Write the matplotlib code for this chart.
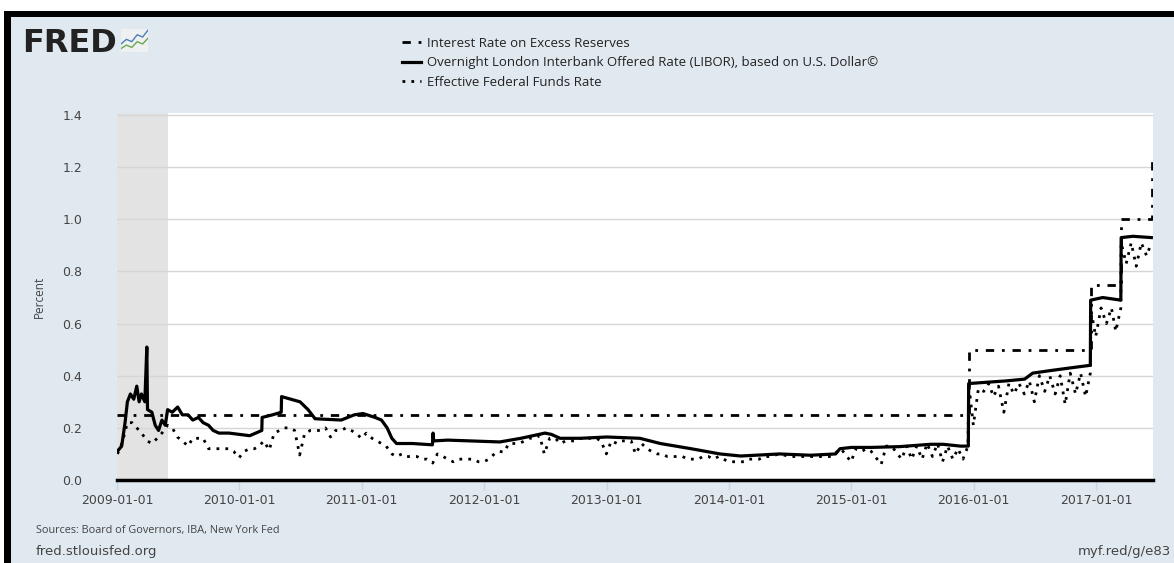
import pandas as pd
import matplotlib
matplotlib.use('Agg')
import matplotlib.pyplot as plt
from matplotlib.patches import Rectangle
from matplotlib.lines import Line2D

# Interest Rate on Excess Reserves (step series)
ioer_dates = ['2009-01-01', '2015-12-17', '2016-12-15', '2017-03-16', '2017-06-15']
ioer_values = [0.25, 0.50, 0.75, 1.00, 1.25]

# Overnight USD LIBOR
libor_dates = [
    '2009-01-02', '2009-01-15', '2009-01-25', '2009-02-01', '2009-02-10', '2009-02-20',
    '2009-03-01', '2009-03-08', '2009-03-15', '2009-03-25', '2009-03-31', '2009-04-02',
    '2009-04-15', '2009-04-25', '2009-05-05', '2009-05-15', '2009-05-25', '2009-06-01',
    '2009-06-15', '2009-07-01', '2009-07-15', '2009-08-01', '2009-08-15', '2009-09-01',
    '2009-09-15', '2009-10-01', '2009-10-15', '2009-11-01', '2009-12-01', '2010-01-01',
    '2010-02-01', '2010-03-09', '2010-03-10', '2010-04-10', '2010-05-06', '2010-05-07',
    '2010-07-01', '2010-07-25', '2010-08-15', '2010-11-01', '2010-12-10', '2011-01-05',
    '2011-02-10', '2011-03-01', '2011-03-18', '2011-04-01', '2011-04-15', '2011-06-01',
    '2011-07-31', '2011-08-02', '2011-08-04', '2011-09-15', '2011-11-20', '2012-02-17',
    '2012-04-20', '2012-07-01', '2012-07-20', '2012-08-15', '2012-10-15', '2013-01-01',
    '2013-04-10', '2013-06-10', '2013-09-10', '2013-12-05', '2014-02-05', '2014-06-01',
    '2014-09-01', '2014-11-15', '2014-11-28', '2015-01-01', '2015-03-01', '2015-05-25',
    '2015-08-25', '2015-10-01', '2015-11-23', '2015-12-16', '2015-12-17', '2016-02-20',
    '2016-04-05', '2016-06-01', '2016-06-25', '2016-08-18', '2016-10-15', '2016-12-14',
    '2016-12-15', '2017-01-20', '2017-03-15', '2017-03-16', '2017-04-20', '2017-06-14',
]
libor_values = [
    0.11, 0.13, 0.22, 0.30, 0.33, 0.31,
    0.36, 0.30, 0.33, 0.30, 0.51, 0.27,
    0.26, 0.21, 0.19, 0.23, 0.21, 0.27,
    0.26, 0.28, 0.25, 0.25, 0.23, 0.24,
    0.22, 0.21, 0.19, 0.18, 0.18, 0.175,
    0.17, 0.19, 0.24, 0.25, 0.26, 0.32,
    0.30, 0.27, 0.235, 0.23, 0.25, 0.255,
    0.24, 0.23, 0.20, 0.16, 0.14, 0.14,
    0.135, 0.18, 0.15, 0.153, 0.15, 0.146,
    0.16, 0.18, 0.175, 0.16, 0.16, 0.165,
    0.16, 0.14, 0.12, 0.10, 0.092, 0.10,
    0.095, 0.10, 0.12, 0.125, 0.125, 0.128,
    0.137, 0.137, 0.13, 0.13, 0.37, 0.376,
    0.38, 0.387, 0.41, 0.42, 0.43, 0.44,
    0.69, 0.70, 0.69, 0.93, 0.935, 0.93,
]

# Effective Federal Funds Rate
effr_dates = [
    '2009-01-02', '2009-01-10', '2009-01-20', '2009-02-01', '2009-02-15', '2009-03-01',
    '2009-03-15', '2009-04-01', '2009-04-15', '2009-05-01', '2009-05-15', '2009-06-01',
    '2009-06-15', '2009-06-30', '2009-07-15', '2009-08-01', '2009-08-15', '2009-09-01',
    '2009-09-15', '2009-10-01', '2009-10-15', '2009-11-01', '2009-11-15', '2009-12-01',
    '2009-12-15', '2009-12-31', '2010-01-15', '2010-02-01', '2010-02-15', '2010-03-01',
    '2010-03-15', '2010-03-31', '2010-04-15', '2010-05-01', '2010-05-15', '2010-06-01',
    '2010-06-15', '2010-06-30', '2010-07-15', '2010-08-01', '2010-08-15', '2010-09-01',
    '2010-09-15', '2010-09-30', '2010-10-15', '2010-11-01', '2010-11-15', '2010-12-01',
    '2010-12-15', '2010-12-31', '2011-01-15', '2011-02-01', '2011-02-15', '2011-03-01',
    '2011-03-15', '2011-04-01', '2011-04-15', '2011-05-01', '2011-05-15', '2011-06-01',
    '2011-06-15', '2011-07-01', '2011-07-15', '2011-08-01', '2011-08-15', '2011-09-01',
    '2011-09-15', '2011-10-01', '2011-10-15', '2011-11-01', '2011-11-15', '2011-12-01',
    '2011-12-15', '2012-01-01', '2012-01-15', '2012-02-01', '2012-02-15', '2012-03-01',
    '2012-03-15', '2012-04-01', '2012-04-15', '2012-05-01', '2012-05-15', '2012-06-01',
    '2012-06-15', '2012-06-29', '2012-07-15', '2012-08-01', '2012-08-15', '2012-09-01',
    '2012-09-15', '2012-10-01', '2012-10-15', '2012-11-01', '2012-11-15', '2012-12-01',
    '2012-12-15', '2012-12-31', '2013-01-15', '2013-02-01', '2013-02-15', '2013-03-01',
    '2013-03-15', '2013-03-28', '2013-04-15', '2013-05-01', '2013-05-15', '2013-06-01',
    '2013-06-15', '2013-07-01', '2013-07-15', '2013-08-01', '2013-08-15', '2013-09-01',
    '2013-09-15', '2013-10-01', '2013-10-15', '2013-11-01', '2013-11-15', '2013-12-01',
    '2013-12-15', '2014-01-01', '2014-01-15', '2014-02-01', '2014-02-15', '2014-03-01',
    '2014-03-15', '2014-04-01', '2014-04-15', '2014-05-01', '2014-06-01', '2014-07-01',
    '2014-08-01', '2014-09-01', '2014-10-01', '2014-11-01', '2014-12-01', '2014-12-31',
    '2015-01-15', '2015-02-01', '2015-02-15', '2015-03-01', '2015-03-31', '2015-04-15',
    '2015-05-01', '2015-05-31', '2015-06-15', '2015-06-30', '2015-07-15', '2015-07-31',
    '2015-08-15', '2015-08-31', '2015-09-15', '2015-09-30', '2015-10-15', '2015-10-31',
    '2015-11-15', '2015-11-30', '2015-12-15', '2015-12-17', '2015-12-31', '2016-01-15',
    '2016-01-31', '2016-02-15', '2016-02-29', '2016-03-15', '2016-03-31', '2016-04-15',
    '2016-04-30', '2016-05-15', '2016-05-31', '2016-06-15', '2016-06-30', '2016-07-15',
    '2016-07-31', '2016-08-15', '2016-08-31', '2016-09-15', '2016-09-30', '2016-10-15',
    '2016-10-31', '2016-11-15', '2016-11-30', '2016-12-14', '2016-12-15', '2016-12-30',
    '2017-01-15', '2017-01-31', '2017-02-15', '2017-02-28', '2017-03-15', '2017-03-16',
    '2017-03-31', '2017-04-15', '2017-04-30', '2017-05-15', '2017-05-31', '2017-06-14',
]
effr_values = [
    0.10, 0.12, 0.16, 0.22, 0.22, 0.20,
    0.18, 0.15, 0.14, 0.16, 0.18, 0.21,
    0.20, 0.165, 0.15, 0.13, 0.16, 0.16,
    0.16, 0.12, 0.12, 0.12, 0.12, 0.12,
    0.11, 0.085, 0.11, 0.12, 0.12, 0.13,
    0.15, 0.115, 0.18, 0.19, 0.20, 0.20,
    0.19, 0.096, 0.18, 0.19, 0.19, 0.19,
    0.20, 0.165, 0.19, 0.19, 0.20, 0.19,
    0.18, 0.16, 0.18, 0.16, 0.15, 0.14,
    0.13, 0.10, 0.09, 0.10, 0.09, 0.09,
    0.09, 0.08, 0.08, 0.065, 0.10, 0.09,
    0.08, 0.07, 0.08, 0.08, 0.08, 0.08,
    0.07, 0.07, 0.08, 0.10, 0.11, 0.107,
    0.14, 0.14, 0.14, 0.15, 0.16, 0.16,
    0.17, 0.10, 0.16, 0.16, 0.14, 0.15,
    0.15, 0.15, 0.16, 0.16, 0.16, 0.16,
    0.15, 0.10, 0.15, 0.14, 0.15, 0.15,
    0.15, 0.10, 0.14, 0.12, 0.11, 0.10,
    0.10, 0.09, 0.09, 0.09, 0.09, 0.08,
    0.08, 0.08, 0.09, 0.09, 0.08, 0.09,
    0.08, 0.07, 0.07, 0.07, 0.07, 0.08,
    0.08, 0.08, 0.09, 0.09, 0.10, 0.09,
    0.09, 0.09, 0.09, 0.09, 0.12, 0.07,
    0.12, 0.11, 0.12, 0.11, 0.06, 0.13,
    0.13, 0.08, 0.13, 0.08, 0.13, 0.08,
    0.14, 0.09, 0.14, 0.07, 0.13, 0.08,
    0.12, 0.08, 0.13, 0.37, 0.21, 0.35,
    0.34, 0.37, 0.32, 0.36, 0.26, 0.37,
    0.33, 0.37, 0.33, 0.38, 0.30, 0.40,
    0.34, 0.40, 0.33, 0.40, 0.29, 0.41,
    0.33, 0.41, 0.32, 0.41, 0.66, 0.55,
    0.66, 0.60, 0.66, 0.57, 0.66, 0.91,
    0.83, 0.91, 0.82, 0.91, 0.86, 0.91,
]

recession = ('2009-01-01', '2009-06-01')
yticks = [0.0, 0.2, 0.4, 0.6, 0.8, 1.0, 1.2, 1.4]
xtick_years = ['2009-01-01', '2010-01-01', '2011-01-01', '2012-01-01', '2013-01-01',
               '2014-01-01', '2015-01-01', '2016-01-01', '2017-01-01']

W, H = 1174, 563
bg = '#e1e9f0'
txt = '#444444'

fig = plt.figure(figsize=(W / 100, H / 100), dpi=100)
fig.patch.set_facecolor(bg)

# page frame: white strip on top, thick black border top and left
fig.add_artist(Rectangle((0, 1 - 11 / H), 1, 11 / H, transform=fig.transFigure,
                         facecolor='white', edgecolor='none'))
fig.add_artist(Rectangle((0, 0), 4 / W, 1, transform=fig.transFigure,
                         facecolor='white', edgecolor='none'))
fig.add_artist(Rectangle((4 / W, 1 - 17 / H), 1, 6 / H, transform=fig.transFigure,
                         facecolor='black', edgecolor='none'))
fig.add_artist(Rectangle((4 / W, 0), 7 / W, 1 - 11 / H, transform=fig.transFigure,
                         facecolor='black', edgecolor='none'))

ax = fig.add_axes([117 / W, 1 - 480 / H, (1153 - 117) / W, (480 - 113) / H])
ax.set_facecolor('white')

ax.axvspan(pd.Timestamp(recession[0]), pd.Timestamp(recession[1]),
           color='#e3e3e3', lw=0, zorder=0)

ioer_x = pd.to_datetime(ioer_dates)
libor_x = pd.to_datetime(libor_dates)
effr_x = pd.to_datetime(effr_dates)

dashdot = (0, (3, 2.8, 1, 2.8))
dotted = (0, (1, 2.2))

ax.plot(ioer_x, ioer_values, color='black', lw=2.0, ls=dashdot, drawstyle='steps-post', zorder=3)
ax.plot(libor_x, libor_values, color='black', lw=2.3, ls='-', zorder=4)
ax.plot(effr_x, effr_values, color='black', lw=2.0, ls=dotted, zorder=3)

ax.set_xlim(pd.Timestamp('2009-01-01'), pd.Timestamp('2017-06-19'))
ax.set_ylim(0, 1.408)
ax.set_yticks(yticks)
ax.set_yticklabels(['%.1f' % v for v in yticks])
ax.set_xticks(pd.to_datetime(xtick_years))
ax.set_xticklabels(xtick_years)
ax.grid(axis='y', color='#d6d6d6', lw=1)
ax.set_axisbelow(True)
for s in ['left', 'right', 'top']:
    ax.spines[s].set_visible(False)
ax.spines['bottom'].set_color('black')
ax.spines['bottom'].set_linewidth(2.5)
ax.tick_params(axis='y', length=0, pad=25, labelsize=9, labelcolor=txt)
ax.tick_params(axis='x', length=7, width=1, color='#c8d7e6', pad=3, labelsize=9, labelcolor=txt)
ax.set_ylabel('Percent', fontsize=8.5, color=txt, family='Open Sans', labelpad=12)

# legend above plot
handles = [
    Line2D([], [], color='black', lw=2.0, ls=dashdot),
    Line2D([], [], color='black', lw=2.3, ls='-'),
    Line2D([], [], color='black', lw=2.0, ls=dotted),
]
labels = [
    'Interest Rate on Excess Reserves',
    'Overnight London Interbank Offered Rate (LIBOR), based on U.S. Dollar\u00a9',
    'Effective Federal Funds Rate',
]
fig.legend(handles, labels, loc='upper left', bbox_to_anchor=(395 / W, 1 - 30 / H),
           frameon=False, handlelength=1.5, handletextpad=0.45, labelspacing=0.5,
           borderpad=0, prop={'family': 'Open Sans', 'size': 9.5}, labelcolor='#222222')

# FRED logo
fig.text(22 / W, 1 - 52 / H, 'FRED', fontsize=23, fontweight='heavy', family='DejaVu Sans',
         color='#222222', va='baseline')
icon = fig.add_axes([121 / W, 1 - 52 / H, 27 / W, 23 / H])
icon.set_facecolor('#eef0f2')
icon.plot([0, 1, 2, 3, 4, 5], [0.35, 0.55, 0.45, 0.75, 0.65, 0.95], color='#4a7fb5', lw=1)
icon.plot([0, 1, 2, 3, 4, 5], [0.15, 0.3, 0.2, 0.45, 0.35, 0.6], color='#6aa84f', lw=1)
icon.set_xlim(0, 5)
icon.set_ylim(0, 1)
icon.set_xticks([])
icon.set_yticks([])
for s in icon.spines.values():
    s.set_visible(False)

# footer
fig.text(36 / W, 1 - 533 / H, 'Sources: Board of Governors, IBA, New York Fed', fontsize=7.8,
         family='Open Sans', color=txt, va='baseline')
fig.text(36 / W, 1 - 555 / H, 'fred.stlouisfed.org', fontsize=9.5, family='DejaVu Sans',
         color=txt, va='baseline')
fig.text(1171 / W, 1 - 555 / H, 'myf.red/g/e83', fontsize=9.5, family='DejaVu Sans',
         color=txt, va='baseline', ha='right')

fig.savefig('out.png', dpi=100, facecolor=fig.get_facecolor())
